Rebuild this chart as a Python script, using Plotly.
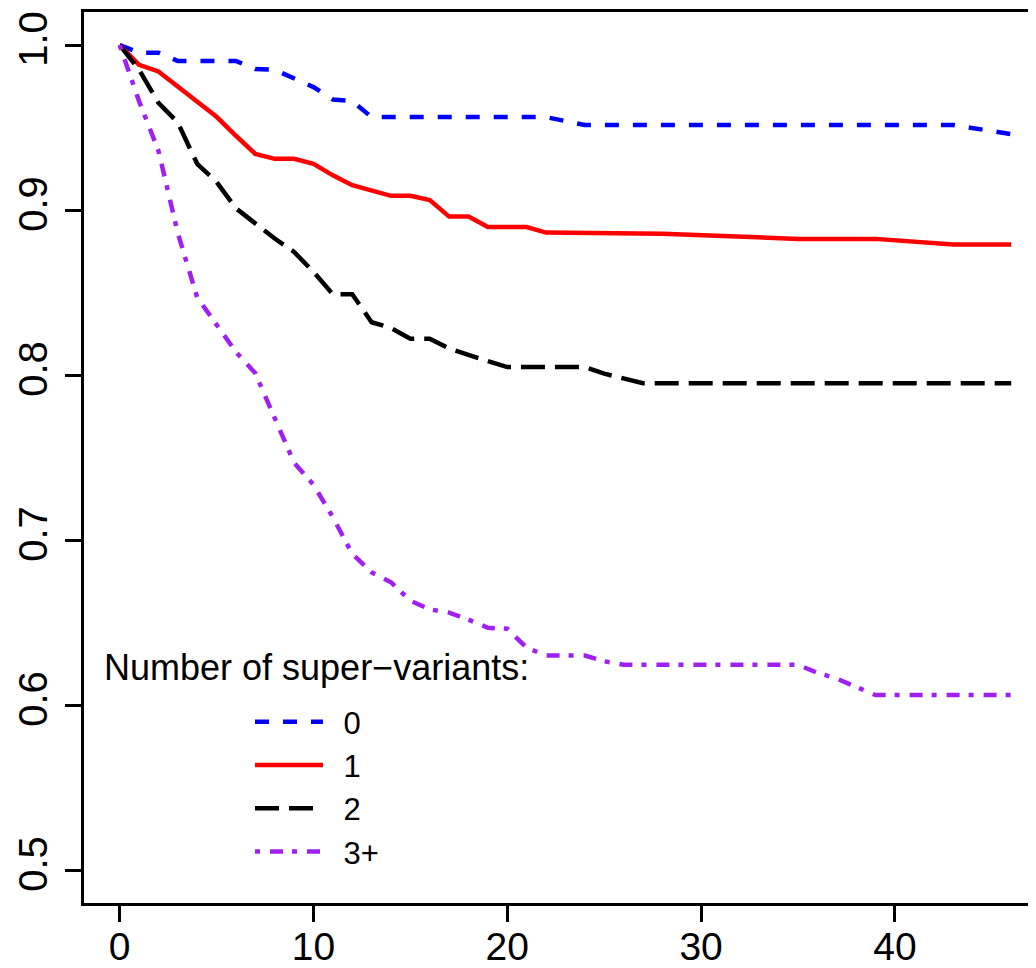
import plotly.graph_objects as go

# ---- data ----
x_sv0 = [0, 1, 2, 3, 6, 7, 8, 9, 10, 11, 12, 13, 22, 24, 43, 46]
y_sv0 = [1.0, 0.9953, 0.9953, 0.9903, 0.9903, 0.9854, 0.985, 0.9797, 0.9745,
         0.967, 0.966, 0.9563, 0.9563, 0.9515, 0.9515, 0.946]

x_sv1 = [0, 1, 2, 5, 6, 7, 8, 9, 10, 11, 12, 13, 14, 15, 16, 17, 18, 19, 21,
         22, 28, 35, 39, 43, 46]
y_sv1 = [1.0, 0.988, 0.984, 0.9565, 0.945, 0.934, 0.931, 0.931, 0.928, 0.921,
         0.915, 0.912, 0.9086, 0.9086, 0.906, 0.896, 0.896, 0.8897, 0.8897,
         0.8863, 0.8856, 0.8825, 0.8825, 0.8791, 0.8791]

x_sv2 = [0, 1, 2, 3, 4, 5, 6, 7, 8, 9, 10, 11, 12, 13, 14, 15, 16, 17, 18, 19,
         20, 24, 25, 26, 27, 46]
y_sv2 = [1.0, 0.985, 0.965, 0.953, 0.928, 0.917, 0.901, 0.892, 0.8827, 0.8746,
         0.8625, 0.849, 0.849, 0.832, 0.8285, 0.822, 0.822, 0.816, 0.812,
         0.8084, 0.8048, 0.8048, 0.8008, 0.798, 0.795, 0.795]

x_sv3 = [0, 1, 2, 3, 4, 5, 6, 7, 8, 9, 10, 11, 12, 13, 14, 15, 16, 17, 18, 19,
         20, 21, 22, 24, 25, 26, 35, 36, 37, 38, 39, 46]
y_sv3 = [1.0, 0.966, 0.936, 0.886, 0.847, 0.830, 0.814, 0.801, 0.7745, 0.7468,
         0.7335, 0.7138, 0.6916, 0.6804, 0.6744, 0.6632, 0.658, 0.656, 0.6517,
         0.6468, 0.6462, 0.6347, 0.630, 0.630, 0.6265, 0.6244, 0.6244, 0.6195,
         0.616, 0.611, 0.606, 0.606]

series_names = ["0", "1", "2", "3+"]
x_ticks = [0, 10, 20, 30, 40]
y_ticks = [0.5, 0.6, 0.7, 0.8, 0.9, 1.0]
y_tick_labels = ["0.5", "0.6", "0.7", "0.8", "0.9", "1.0"]
legend_title = "Number of super\u2212variants:"

FONT = "Liberation Sans, Arial, sans-serif"
OFF = 8                      # page body margin offset
W, H = 1036 - OFF, 968
# plot box in reference-pixel terms
BOX_L, BOX_T, BOX_B = 84, 12, 903
ML, MT, MB, MR = BOX_L - OFF, BOX_T - OFF, H - (BOX_B - OFF), 0
pw = W - ML - MR
ph = H - MT - MB


def px_x(p):   # reference pixel -> paper x
    return (p - BOX_L) / pw


def px_y(p):   # reference pixel -> paper y
    return (BOX_B - p) / ph


styles = [
    dict(color="#0000FF", dash="14px,14px"),
    dict(color="#FF0000", dash="solid"),
    dict(color="#000000", dash="24px,10px"),
    dict(color="#A020F0", dash="5px,10px,13px,9px"),
]

fig = go.Figure()
for xs, ys, name, st in zip([x_sv0, x_sv1, x_sv2, x_sv3],
                            [y_sv0, y_sv1, y_sv2, y_sv3],
                            series_names, styles):
    fig.add_trace(go.Scatter(
        x=xs, y=ys, mode="lines", name="\u2002" + name,
        line=dict(color=st["color"], dash=st["dash"], width=4.5),
    ))

fig.add_annotation(
    text=legend_title, xref="paper", yref="paper",
    x=px_x(102), y=px_y(667), xanchor="left", yanchor="middle",
    showarrow=False, font=dict(family=FONT, size=36, color="black"),
)

fig.update_layout(
    width=W, height=H,
    margin=dict(l=ML, r=MR, t=MT, b=MB, pad=0, autoexpand=False),
    paper_bgcolor="white", plot_bgcolor="white",
    font=dict(family=FONT, size=36, color="black"),
    showlegend=True,
    legend=dict(
        x=px_x(250), y=px_y(695), xanchor="left", yanchor="top",
        bgcolor="rgba(0,0,0,0)", borderwidth=0,
        font=dict(family=FONT, size=31, color="black"),
        traceorder="normal", itemwidth=68,
    ),
    xaxis=dict(
        range=[-1.84, 47.28], tickmode="array", tickvals=x_ticks,
        ticks="outside", ticklen=16, tickwidth=3, tickcolor="black",
        showline=True, linewidth=3, linecolor="black", mirror=True,
        showgrid=False, zeroline=False, automargin=False,
        ticklabelstandoff=-9,
        tickfont=dict(family=FONT, size=39, color="black"),
    ),
    yaxis=dict(
        range=[0.48, 1.02], tickmode="array", tickvals=y_ticks,
        ticktext=y_tick_labels, tickangle=-90,
        ticks="outside", ticklen=16, tickwidth=3, tickcolor="black",
        showline=True, linewidth=3, linecolor="black", mirror=False,
        showgrid=False, zeroline=False, automargin=False,
        ticklabelstandoff=2,
        tickfont=dict(family=FONT, size=40, color="black"),
    ),
)

fig.write_html("out.html")
